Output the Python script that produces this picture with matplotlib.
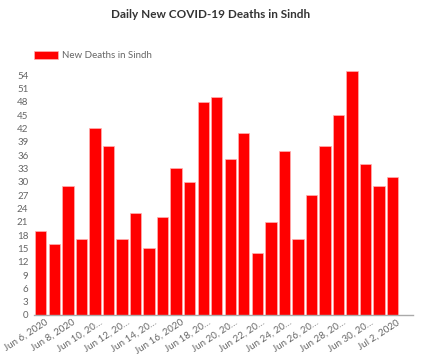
import matplotlib
matplotlib.use("Agg")
import matplotlib.pyplot as plt
import matplotlib.transforms as mtransforms
import numpy as np

dates = ["Jun 6, 2020", "Jun 7, 2020", "Jun 8, 2020", "Jun 9, 2020", "Jun 10, 2020",
         "Jun 11, 2020", "Jun 12, 2020", "Jun 13, 2020", "Jun 14, 2020", "Jun 15, 2020",
         "Jun 16, 2020", "Jun 17, 2020", "Jun 18, 2020", "Jun 19, 2020", "Jun 20, 2020",
         "Jun 21, 2020", "Jun 22, 2020", "Jun 23, 2020", "Jun 24, 2020", "Jun 25, 2020",
         "Jun 26, 2020", "Jun 27, 2020", "Jun 28, 2020", "Jun 29, 2020", "Jun 30, 2020",
         "Jul 1, 2020", "Jul 2, 2020"]
deaths = [19, 16, 29, 17, 42, 38, 17, 23, 15, 22, 33, 30, 48, 49, 35, 41, 14, 21, 37, 17,
          27, 38, 45, 55, 34, 29, 31]
tick_labels = ["Jun 6, 2020", "Jun 8, 2020", "Jun 10, 20…", "Jun 12, 20…", "Jun 14, 20…",
               "Jun 16, 2020", "Jun 18, 20…", "Jun 20, 20…", "Jun 22, 20…", "Jun 24, 20…",
               "Jun 26, 20…", "Jun 28, 20…", "Jun 30, 20…", "Jul 2, 2020"]
y_ticks = list(range(0, 55, 3))

plt.rcParams['font.family'] = ['Lato', 'DejaVu Sans']

fig = plt.figure(figsize=(4.22, 3.59), dpi=100)
W, H = 422, 359
left, right, top, bottom = 34, 413, 70.6, 315
ax = fig.add_axes([left / W, 1 - bottom / H, (right - left) / W, (bottom - top) / H])

x = np.arange(len(deaths))
ax.bar(x, deaths, width=0.84, color='#ff0000', edgecolor='#ffb0b0', linewidth=0.5,
       label='New Deaths in Sindh')
ax.set_xlim(-0.5, len(deaths) + 0.5)
ax.set_ylim(0, max(deaths))
ax.set_yticks(y_ticks)
ax.set_yticklabels([str(v) for v in y_ticks], fontsize=7, color='#666666')
ax.set_xticks(x[::2])
ax.set_xticklabels(tick_labels, rotation=33, ha='right', rotation_mode='anchor',
                   fontsize=7, color='#666666')
ax.tick_params(axis='both', length=0, pad=4)
ax.tick_params(axis='x', pad=2)
offset = mtransforms.ScaledTranslation(4 / 100, 0, fig.dpi_scale_trans)
for lab in ax.get_xticklabels():
    lab.set_transform(lab.get_transform() + offset)
for s in ['top', 'right', 'left']:
    ax.spines[s].set_visible(False)
ax.spines['bottom'].set_color('#aaaaaa')
ax.spines['bottom'].set_linewidth(1)

fig.text(0.5, 1 - 15 / H, 'Daily New COVID-19 Deaths in Sindh', ha='center', va='center',
         fontsize=8.5, fontweight='bold', color='#333333')
leg = fig.legend(loc='center left', bbox_to_anchor=(34 / W, 1 - 55.5 / H), frameon=False,
                 fontsize=7, handlelength=2.5, handleheight=0.9, handletextpad=0.4,
                 borderpad=0, borderaxespad=0, labelcolor='#666666')

fig.savefig('out.png', dpi=100)
